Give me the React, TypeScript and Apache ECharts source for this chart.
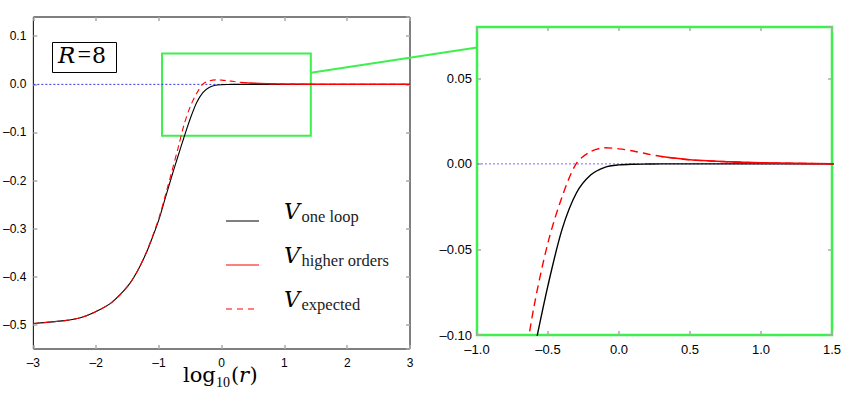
import React, { useEffect, useRef } from "react";
import * as echarts from "echarts";

// log10(r) sample positions
const xs = [-3, -2.5, -2.25, -2, -1.75, -1.5, -1.35, -1.2, -1.1, -1.0, -0.9, -0.8, -0.7, -0.6, -0.5, -0.4, -0.3, -0.2, -0.1, 0, 0.1, 0.2, 0.3, 0.5, 0.75, 1.0, 1.25, 1.5, 2, 2.5, 3];
const vOneLoop = [-0.497, -0.491, -0.485, -0.472, -0.453, -0.420, -0.390, -0.350, -0.317, -0.281, -0.237, -0.193, -0.151, -0.110, -0.071, -0.038, -0.017, -0.0065, -0.002, -0.0006, -0.0002, -0.0001, 0, 0, 0, 0, 0, 0, 0, 0, 0];
const vHigher = [null, null, null, null, null, null, null, null, null, null, null, null, null, null, null, null, null, null, null, null, null, null, 0.0043, 0.0024, 0.0013, 0.0006, 0.0003, 0.0001, 0, 0, 0];
const vExpected = [-0.497, -0.491, -0.485, -0.472, -0.453, -0.420, -0.390, -0.349, -0.315, -0.278, -0.232, -0.184, -0.135, -0.084, -0.046, -0.019, 0.0003, 0.0072, 0.0094, 0.0088, 0.0075, 0.0058, 0.0043, 0.0024, 0.0013, 0.0006, 0.0003, 0.0001, 0, 0, 0];

const mainX = [-3, 3];
const mainY = [-0.55, 0.14];
const zoomX = [-1.0, 1.5];
const zoomY = [-0.1, 0.08];
const zoomBoxFrom = [-0.95, 0.064];
const zoomBoxTo = [1.42, -0.107];
const connectorFrom = [1.42, 0.024];
const connectorTo = [-1.0, 0.068];

const legendLabels = ["one loop", "higher orders", "expected"];

const GREEN = "#3ef04e";
const RED = "#ff0000";
const SANS = "'Liberation Sans', Arial, Helvetica, sans-serif";
const SERIF = "'Liberation Serif', 'Times New Roman', serif";
const WIDE_SERIF = "'DejaVu Serif', serif";

const pairs = (ys: (number | null)[]) => xs.map((x, i) => [x, ys[i]]);
const dash = (s: string) => s.replace("-", "\u2013");

export default function App() {
  const ref = useRef<HTMLDivElement>(null);
  useEffect(() => {
    if (!ref.current) return;
    const chart = echarts.init(ref.current, undefined, { renderer: "svg" });
    const tickStyle = { show: true, inside: true, length: 4, lineStyle: { color: "#aaaaaa", width: 1.5 } };
    const xAx = (grid: number, pos: string, min: number, max: number, interval: number, labels: boolean, fmt: (v: number) => string, fs: number, margin: number) => ({
      type: "value", gridIndex: grid, position: pos, min, max, interval,
      axisLine: { show: false, onZero: false }, splitLine: { show: false },
      axisTick: tickStyle,
      axisLabel: { show: labels, formatter: fmt, color: "#000", fontFamily: SANS, fontSize: fs, margin },
    });
    const fmtInt = (v: number) => dash(String(Math.round(v)));
    const fmt1 = (v: number) => dash(v.toFixed(1));
    const fmtY1 = (v: number) => (Math.abs(v * 10 - Math.round(v * 10)) < 1e-6 ? dash(v.toFixed(1)) : "");
    const fmtY2 = (v: number) => (Math.abs(v * 20 - Math.round(v * 20)) < 1e-6 ? dash(v.toFixed(2)) : "");

    const yAx = (grid: number, pos: string, min: number, max: number, interval: number | undefined, labels: boolean, fmt: (v: number) => string, fs: number, margin: number) => ({
      type: "value", gridIndex: grid, position: pos, min, max, interval, splitNumber: 7,
      axisLine: { show: false, onZero: false }, splitLine: { show: false },
      axisTick: tickStyle,
      axisLabel: { show: labels, formatter: fmt, color: "#000", fontFamily: SANS, fontSize: fs, margin, showMaxLabel: false, showMinLabel: pos === "left" && grid === 1 ? true : false },
    });

    const seriesFor = (xi: number, yi: number, big: boolean) => [
      {
        type: "line", xAxisIndex: xi, yAxisIndex: yi, showSymbol: false, silent: true,
        data: [[mainX[0], 0], [mainX[1], 0]],
        lineStyle: { color: big ? "#7a6cff" : "#3030e8", width: 1, type: [2, 2] },
        markArea: big ? undefined : {
          silent: true,
          itemStyle: { color: "rgba(0,0,0,0)", borderColor: GREEN, borderWidth: 2 },
          data: [[{ coord: zoomBoxFrom }, { coord: zoomBoxTo }]],
        },
      },
      {
        type: "line", xAxisIndex: xi, yAxisIndex: yi, showSymbol: false, smooth: 0.3, silent: true,
        data: pairs(vOneLoop), lineStyle: { color: "#000", width: big ? 1.4 : 1.1 },
      },
      {
        type: "line", xAxisIndex: xi, yAxisIndex: yi, showSymbol: false, smooth: 0.3, silent: true, connectNulls: false,
        data: pairs(vHigher), lineStyle: { color: RED, width: big ? 1.6 : 1.3 },
      },
      {
        type: "line", xAxisIndex: xi, yAxisIndex: yi, showSymbol: false, smooth: 0.3, silent: true,
        data: pairs(vExpected), lineStyle: { color: RED, width: big ? 1.4 : 1.1, type: big ? [8, 5] : [6, 4] },
      },
    ];

    chart.setOption({
      animation: false,
      grid: [
        { left: 33, top: 17, width: 377, height: 332, show: true, borderColor: "#000", borderWidth: 1, backgroundColor: "transparent" },
        { left: 477, top: 27, width: 355, height: 308, show: true, borderColor: GREEN, borderWidth: 2.5, backgroundColor: "transparent" },
      ],
      xAxis: [
        xAx(0, "bottom", mainX[0], mainX[1], 1, true, fmtInt, 12, 8),
        xAx(0, "top", mainX[0], mainX[1], 1, false, fmtInt, 12, 8),
        xAx(1, "bottom", zoomX[0], zoomX[1], 0.5, true, fmt1, 13, 8),
        xAx(1, "top", zoomX[0], zoomX[1], 0.5, false, fmt1, 13, 8),
      ],
      yAxis: [
        yAx(0, "left", mainY[0], mainY[1], undefined, true, fmtY1, 12, 7),
        yAx(0, "right", mainY[0], mainY[1], undefined, false, fmtY1, 12, 7),
        yAx(1, "left", zoomY[0], zoomY[1], 0.05, true, fmtY2, 13, 5),
        yAx(1, "right", zoomY[0], zoomY[1], 0.05, false, fmtY2, 13, 5),
      ],
      series: [...seriesFor(0, 0, false), ...seriesFor(2, 2, true)],
    });

    const p1 = chart.convertToPixel({ xAxisIndex: 0, yAxisIndex: 0 }, connectorFrom) as number[];
    const p2 = chart.convertToPixel({ xAxisIndex: 2, yAxisIndex: 2 }, connectorTo) as number[];

    const txt = (text: string, x: number, baseline: number, size: number, italic = false, family = SERIF, extra: any = {}) => ({
      type: "text", x, y: baseline - 0.34 * size, silent: true,
      style: { text, fontFamily: family, fontSize: size, fontStyle: italic ? "italic" : "normal", fill: "#000", verticalAlign: "middle", align: "left", ...extra },
    });

    const legendY = [221, 265, 309];
    const legendGraphics: any[] = [];
    legendLabels.forEach((lab, i) => {
      const y = legendY[i];
      legendGraphics.push({
        type: "line", silent: true,
        shape: { x1: 226, y1: y, x2: 259, y2: y },
        style: { stroke: i === 0 ? "#000" : RED, lineWidth: 1.2, lineDash: i === 2 ? [6, 5] : null },
      });
      legendGraphics.push(txt("V", 284, y - 2, 22, true, WIDE_SERIF));
      legendGraphics.push(txt(lab, 301.5, y + 1.5, 16.5, false, SERIF, { fill: "#222" }));
    });

    chart.setOption({
      graphic: [
        {
          type: "line", silent: true,
          shape: { x1: p1[0], y1: p1[1], x2: p2[0], y2: p2[1] },
          style: { stroke: GREEN, lineWidth: 2 },
        },
        {
          type: "rect", silent: true,
          shape: { x: 52.5, y: 42.5, width: 64, height: 30 },
          style: { fill: "#fff", stroke: "#000", lineWidth: 1 },
        },
        txt("R", 58, 63, 23, true, WIDE_SERIF),
        txt("=", 77.5, 62, 24),
        txt("8", 92, 63, 22, false, WIDE_SERIF),
        ...legendGraphics,
        txt("log", 183, 382, 21, false, WIDE_SERIF),
        txt("10", 216, 387.5, 14),
        txt("(", 231, 382, 21, false, WIDE_SERIF),
        txt("r", 239, 382, 21, true, WIDE_SERIF),
        txt(")", 249.5, 382, 21, false, WIDE_SERIF),
      ],
    });

    return () => chart.dispose();
  }, []);
  return <div ref={ref} style={{ position: "fixed", left: 0, top: 0, width: 857, height: 398, background: "#fff" }} />;
}
